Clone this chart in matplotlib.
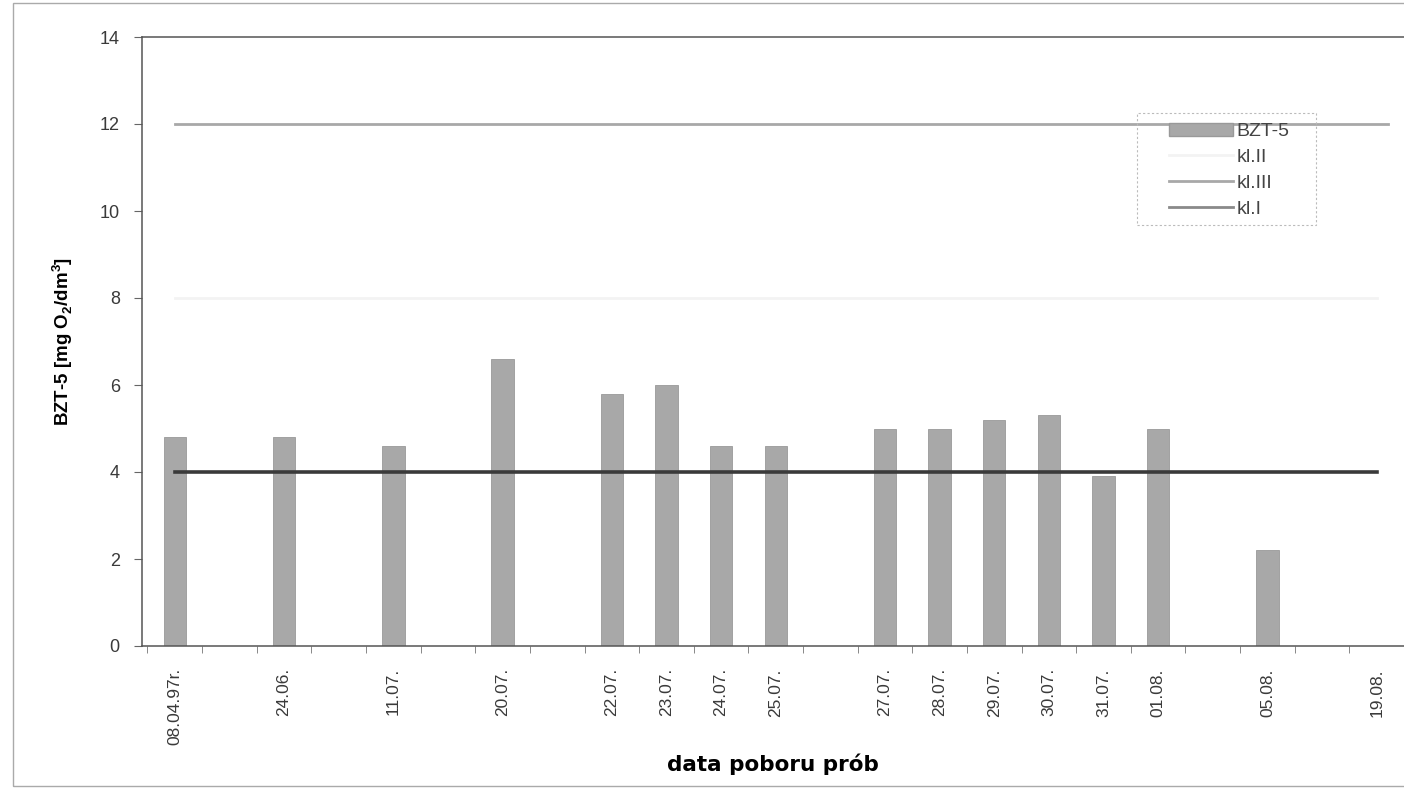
import matplotlib
matplotlib.use("Agg")
import matplotlib.pyplot as plt
from matplotlib.patches import Rectangle, Patch
from matplotlib.lines import Line2D

# Sampling dates and their slot on the category axis (empty slots leave gaps)
dates = ["08.04.97r.", "24.06.", "11.07.", "20.07.", "22.07.", "23.07.", "24.07.",
         "25.07.", "27.07.", "28.07.", "29.07.", "30.07.", "31.07.", "01.08.",
         "05.08.", "19.08."]
slots = [0, 2, 4, 6, 8, 9, 10, 11, 13, 14, 15, 16, 17, 18, 20, 22]

# BZT-5 measurements [mg O2/dm3]; no value for the last date
bzt5 = [4.8, 4.8, 4.6, 6.6, 5.8, 6.0, 4.6, 4.6, 5.0, 5.0, 5.2, 5.3, 3.9, 5.0, 2.2, None]

# Water quality class limits
kl_I = 4
kl_II = 8
kl_III = 12

yticks = [0, 2, 4, 6, 8, 10, 12, 14]

plt.rcParams["font.family"] = ["Liberation Sans", "DejaVu Sans"]
plt.rcParams["mathtext.fontset"] = "custom"
plt.rcParams["mathtext.rm"] = "Liberation Sans"
plt.rcParams["mathtext.bf"] = "Liberation Sans:bold"

W, H = 1404, 789
fig = plt.figure(figsize=(W / 100, H / 100), dpi=100)
ax = fig.add_axes([142 / W, 1 - 646 / H, (W - 142) / W, (646 - 37) / H])

bx = [s for s, v in zip(slots, bzt5) if v is not None]
bv = [v for v in bzt5 if v is not None]
ax.bar(bx, bv, width=0.41, color="#a8a8a8", edgecolor="#999999", linewidth=0.6, zorder=2)

x0, x1 = slots[0], slots[-1]
ax.plot([x0, x1], [kl_II, kl_II], color="#f3f3f3", lw=2, zorder=3)
ax.plot([x0, x1 + 0.2], [kl_III, kl_III], color="#a8a8a8", lw=2, zorder=3)
ax.plot([x0, x1], [kl_I, kl_I], color="#3a3a3a", lw=2.6, zorder=3)

ax.set_xlim(-0.6, (1404 - 175) / 54.8)
ax.set_ylim(0, 14)
ax.set_yticks(yticks)
ax.set_yticklabels([str(t) for t in yticks], fontsize=13, color="#3a3a3a")
ax.tick_params(axis="y", length=6, width=0.8, color="#666666", pad=10)

ax.set_xticks(slots)
ax.set_xticklabels(dates, rotation=90, fontsize=12.5, color="#3a3a3a",
                   family=["Liberation Sans Narrow", "Liberation Sans"])
ax.tick_params(axis="x", which="major", length=0, pad=16)
ax.set_xticks([k + 0.5 for k in range(-1, 23)], minor=True)
ax.tick_params(axis="x", which="minor", length=5, width=0.7, color="#888888")

for side in ("left", "bottom", "top"):
    ax.spines[side].set_color("#555555")
    ax.spines[side].set_linewidth(1.1)
ax.spines["right"].set_visible(False)

ax.set_ylabel(r"BZT-5 [mg O$_\mathbf{2}$/dm$^\mathbf{3}$]", fontsize=13.5,
              fontweight="bold", labelpad=18)
ax.set_xlabel("data poboru prób", fontsize=15.5, fontweight="bold",
              family=["DejaVu Sans"], labelpad=6)

# Legend
handles = [Patch(facecolor="#a8a8a8", edgecolor="#999999"),
           Line2D([], [], color="#f3f3f3", lw=2),
           Line2D([], [], color="#a8a8a8", lw=2),
           Line2D([], [], color="#8a8a8a", lw=2)]
labels = ["BZT-5", "kl.II", "kl.III", "kl.I"]
leg = fig.legend(handles, labels, loc="upper left",
                 bbox_to_anchor=(1161 / W, 1 - 115 / H), frameon=False,
                 fontsize=14, handlelength=3.3, handletextpad=0.2,
                 labelspacing=0.42, borderaxespad=0)
for t in leg.get_texts():
    t.set_color("#444444")
fig.patches.append(Rectangle((1137 / W, 1 - 225 / H), (1316 - 1137) / W, (225 - 113) / H,
                             transform=fig.transFigure, fill=False,
                             edgecolor="#bbbbbb", lw=0.8, linestyle=(0, (2, 2))))

# Outer chart-area frame
fig.patches.append(Rectangle((13 / W, 1 - 786 / H), (W + 10 - 13) / W, (786 - 3) / H,
                             transform=fig.transFigure, fill=False,
                             edgecolor="#aaaaaa", lw=1))

fig.savefig("out.png", dpi=100)
